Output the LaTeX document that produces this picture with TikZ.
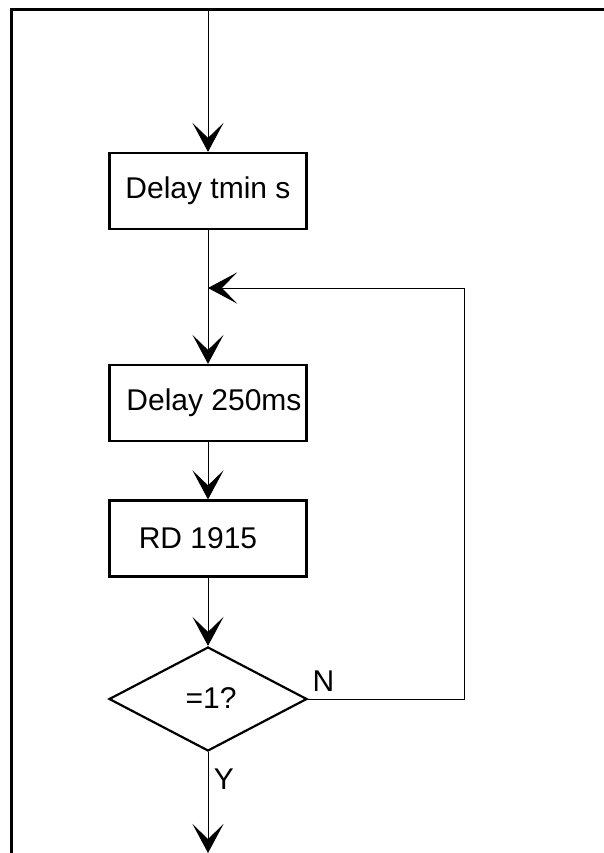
\documentclass[tikz,border=0pt]{standalone}
\usepackage{fontspec}
\setmainfont{Liberation Sans}
\usetikzlibrary{arrows.meta,shapes.geometric}
\begin{document}
\begin{tikzpicture}[x=1pt,y=-1pt,
  every node/.style={font=\fontsize{30}{36}\selectfont},
  stepbox/.style={draw,line width=2.2pt,minimum width=197pt,minimum height=76pt,inner sep=0pt},
  decision/.style={draw,diamond,line width=2.2pt,minimum width=198pt,minimum height=104pt,inner sep=0pt},
  conn/.style={line width=1pt},
  arr/.style={conn,-{Stealth[length=29pt,width=31pt,inset=15pt]}},
  lbl/.style={inner sep=0pt}]
\useasboundingbox (0,0) rectangle (604,853);
% frame
\draw[line width=3pt] (11,870) -- (11,10) -- (620,10);
\coordinate (top) at (208,10);
\node[stepbox] (b1) at (208,191) {Delay tmin s};
\coordinate (j) at (208,288);
\node[stepbox] (b2) at (208,403) {\hspace*{12pt}Delay 250ms};
\node[stepbox] (b3) at (208,538.5) {\hspace*{-20pt}RD 1915};
\node[decision] (d) at (208,699) {\raisebox{2pt}{\hspace*{6pt}=1?}};
\coordinate (rt) at (464,288);
\coordinate (end) at (208,853);
\draw[arr] (top) -- (b1.north);
\draw[conn] (b1.south) -- (j);
\draw[arr] (j) -- (b2.north);
\draw[arr] (b2.south) -- (b3.north);
\draw[arr] (b3.south) -- (d.north);
\draw[arr] (d.east) -- (d.east -| rt) -- (rt) -- (j);
\draw[arr] (d.south) -- (end);
\node[lbl] (n) at (323.5,681) {N};
\node[lbl] (y) at (224,779) {Y};
\end{tikzpicture}
\end{document}
